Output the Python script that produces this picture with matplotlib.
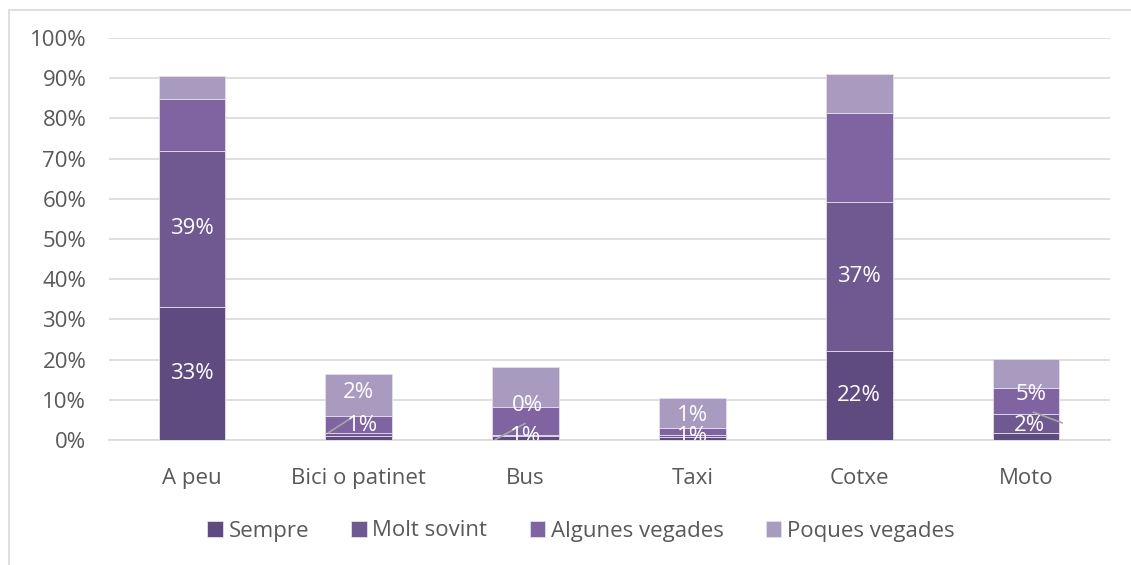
import matplotlib
matplotlib.use("Agg")
import matplotlib.pyplot as plt
from matplotlib.patches import Rectangle
import numpy as np

categories = ["A peu", "Bici o patinet", "Bus", "Taxi", "Cotxe", "Moto"]
series_names = ["Sempre", "Molt sovint", "Algunes vegades", "Poques vegades"]
sempre = [33.1, 1.0, 1.0, 0.8, 22.1, 1.7]
molt_sovint = [38.8, 0.8, 0.3, 0.5, 37.1, 4.7]
algunes = [12.9, 4.2, 6.8, 1.8, 22.1, 6.5]
poques = [5.7, 10.4, 10.1, 7.3, 9.7, 7.2]
label_sempre = ["33%", "1%", "1%", "1%", "22%", "2%"]
label_molt = ["39%", "2%", "0%", "1%", "37%", "5%"]
yticks = [0, 10, 20, 30, 40, 50, 60, 70, 80, 90, 100]

colors = ["#5F4B7F", "#6F5990", "#8064A2", "#A99BC0"]

plt.rcParams['font.family'] = ['Open Sans', 'DejaVu Sans']
fig = plt.figure(figsize=(11.31, 5.65), dpi=100)
ax = fig.add_axes([108.5/1131, 125/565, 1001/1131, 402/565])

x = np.arange(len(categories))
w = 0.40
bottom = np.zeros(len(categories))
for vals, c, name in zip([sempre, molt_sovint, algunes, poques], colors, series_names):
    ax.bar(x, vals, w, bottom=bottom, color=c, label=name, edgecolor="#E4DDEE", linewidth=0.6, zorder=3)
    bottom += np.array(vals)

# data labels
fs = 16
small = {
    (1, 1): (0.0, 11.7), (1, 0): (0.02, 3.7),
    (2, 1): (0.01, 8.7), (2, 0): (0.0, 0.75),
    (3, 1): (0.0, 6.2), (3, 0): (0.0, 0.75),
    (5, 1): (0.03, 11.2), (5, 0): (0.02, 3.5),
}
leaders = {1: ((0.814, 1.7), (1.0, 6.7)), 2: ((1.814, 0.0), (2.0, 4.2)), 5: ((5.04, 7.0), (5.22, 4.2))}
cum0 = np.array(sempre)
for i in range(len(categories)):
    for s, (vals, labs, base) in enumerate([(sempre, label_sempre, np.zeros(6)), (molt_sovint, label_molt, cum0)]):
        if (i, s) in small:
            dx, yy = small[(i, s)]
            xx = i + dx
        else:
            xx = i
            yy = base[i] + vals[i] / 2
        ax.text(xx, yy, labs[i], ha="center", va="center", color="white", fontsize=fs, zorder=5, clip_on=True)
for i, ((x0, y0), (x1, y1)) in leaders.items():
    ax.plot([x0, x1], [y0, y1], color="#A6A6A6", lw=1.2, zorder=4, solid_capstyle="butt")

ax.set_xlim(-0.5, len(categories) - 0.5)
ax.set_ylim(0, 100)
ax.set_yticks(yticks)
ax.set_yticklabels([f"{t}%" for t in yticks])
ax.set_xticks(x)
ax.set_xticklabels(categories)
ax.tick_params(axis="both", length=0, labelsize=fs, colors="#595959")
ax.tick_params(axis="y", pad=16)
ax.tick_params(axis="x", pad=20)
ax.yaxis.grid(True, color="#D9D9D9", lw=1.2, zorder=0)
ax.set_axisbelow(True)
for sp in ["top", "right", "left"]:
    ax.spines[sp].set_visible(False)
ax.spines["bottom"].set_color("#D9D9D9")
ax.spines["bottom"].set_linewidth(1.2)

leg = fig.legend(loc="center", bbox_to_anchor=(581/1131, 1 - 531/565), ncol=4, frameon=False,
                 fontsize=fs, handlelength=0.7, handleheight=0.7, handletextpad=0.25, columnspacing=1.9)
for t in leg.get_texts():
    t.set_color("#595959")

fig.patches.append(Rectangle((8.5/1131, -0.1), 1.0, 1.1 - 9.5/565, transform=fig.transFigure,
                             fill=False, edgecolor="#D9D9D9", lw=1.2))

fig.savefig("out.png", dpi=100, facecolor="white")
